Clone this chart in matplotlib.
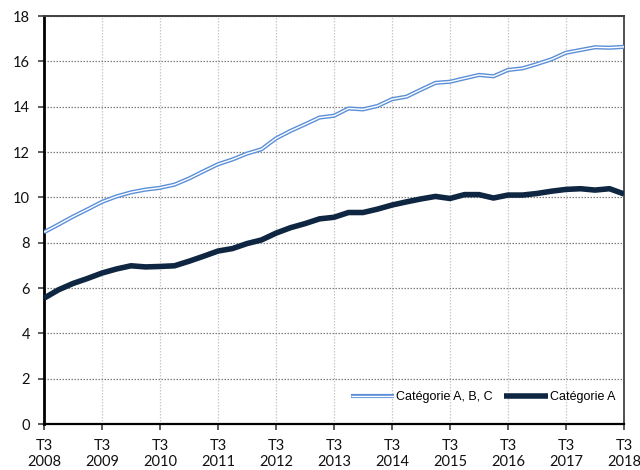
import matplotlib
matplotlib.use("Agg")
import matplotlib.pyplot as plt
from matplotlib.lines import Line2D
from matplotlib.legend_handler import HandlerTuple

plt.rcParams['font.family'] = ['Lato', 'DejaVu Sans']

# Quarterly periods, T3 2008 .. T3 2018
periods = [f"T{q} {y}" for y in range(2008, 2019) for q in (1, 2, 3, 4)]
periods = periods[2:-1]
tick_labels = ["T3\n2008", "T3\n2009", "T3\n2010", "T3\n2011", "T3\n2012", "T3\n2013",
               "T3\n2014", "T3\n2015", "T3\n2016", "T3\n2017", "T3\n2018"]

cat_abc = [8.46, 8.8, 9.15, 9.47, 9.8, 10.04, 10.22, 10.34, 10.42, 10.56, 10.83,
           11.15, 11.46, 11.67, 11.93, 12.12, 12.6, 12.93, 13.22, 13.52, 13.6,
           13.92, 13.88, 14.03, 14.33, 14.44, 14.75, 15.05, 15.1, 15.25, 15.4,
           15.34, 15.62, 15.69, 15.88, 16.09, 16.38, 16.5, 16.62, 16.6, 16.64]

cat_a = [5.55, 5.92, 6.2, 6.42, 6.66, 6.84, 6.98, 6.93, 6.95, 6.98, 7.18,
         7.4, 7.63, 7.74, 7.96, 8.12, 8.42, 8.66, 8.84, 9.05, 9.12,
         9.33, 9.33, 9.48, 9.66, 9.8, 9.93, 10.04, 9.95, 10.12, 10.12,
         9.97, 10.1, 10.1, 10.17, 10.27, 10.35, 10.38, 10.32, 10.38, 10.15]

blue = "#5A8FD8"
navy = "#0E2641"

fig = plt.figure(figsize=(6.4, 4.7), dpi=100)
ax = fig.add_axes([44/640, 46/470, 580/640, 408/470])

x = list(range(len(periods)))
ax.plot(x, cat_abc, color=blue, lw=3.0, solid_capstyle='butt', zorder=3)
ax.plot(x, cat_abc, color="white", lw=1.0, solid_capstyle='butt', zorder=4)
ax.plot(x, cat_a, color=navy, lw=4.0, solid_capstyle='butt', zorder=5)

ax.set_xlim(0, len(periods) - 1)
ax.set_ylim(0, 18)
ax.set_yticks(range(0, 19, 2))
ax.set_xticks(range(0, len(periods), 4))
ax.set_xticklabels(tick_labels, linespacing=1.15)

for t in ax.get_xticklabels() + ax.get_yticklabels():
    t.set_fontsize(10.5)
    t.set_color('#111111')

ax.tick_params(axis='both', direction='out', length=4, width=1.2, color='#404040', pad=6)
ax.tick_params(axis='x', pad=7)

ax.yaxis.grid(True, linestyle=(0, (1.2, 1.2)), color='#7f7f7f', lw=0.9)
ax.xaxis.grid(True, linestyle=(0, (1.2, 1.2)), color='#c8c8c8', lw=0.9)
ax.set_axisbelow(True)

ax.spines['left'].set_linewidth(2.0)
ax.spines['left'].set_color('black')
ax.spines['bottom'].set_linewidth(1.6)
ax.spines['bottom'].set_color('black')
ax.spines['top'].set_linewidth(1.4)
ax.spines['top'].set_color('#404040')
ax.spines['right'].set_linewidth(1.4)
ax.spines['right'].set_color('#505050')

h1a = Line2D([], [], color=blue, lw=3.0, solid_capstyle='butt')
h1b = Line2D([], [], color='white', lw=1.0, solid_capstyle='butt')
h2 = Line2D([], [], color=navy, lw=4.0, solid_capstyle='butt')
ax.legend([(h1a, h1b), h2], ["Catégorie A, B, C", "Catégorie A"],
          handler_map={tuple: HandlerTuple(ndivide=1, pad=0)},
          loc='center right', bbox_to_anchor=(1.0, 0.066), ncol=2, frameon=False,
          prop={'family': ['Liberation Sans', 'DejaVu Sans'], 'size': 9},
          handlelength=3.5, handletextpad=0.15, columnspacing=0.9,
          borderaxespad=0.3)

fig.savefig("out.png", dpi=100)
